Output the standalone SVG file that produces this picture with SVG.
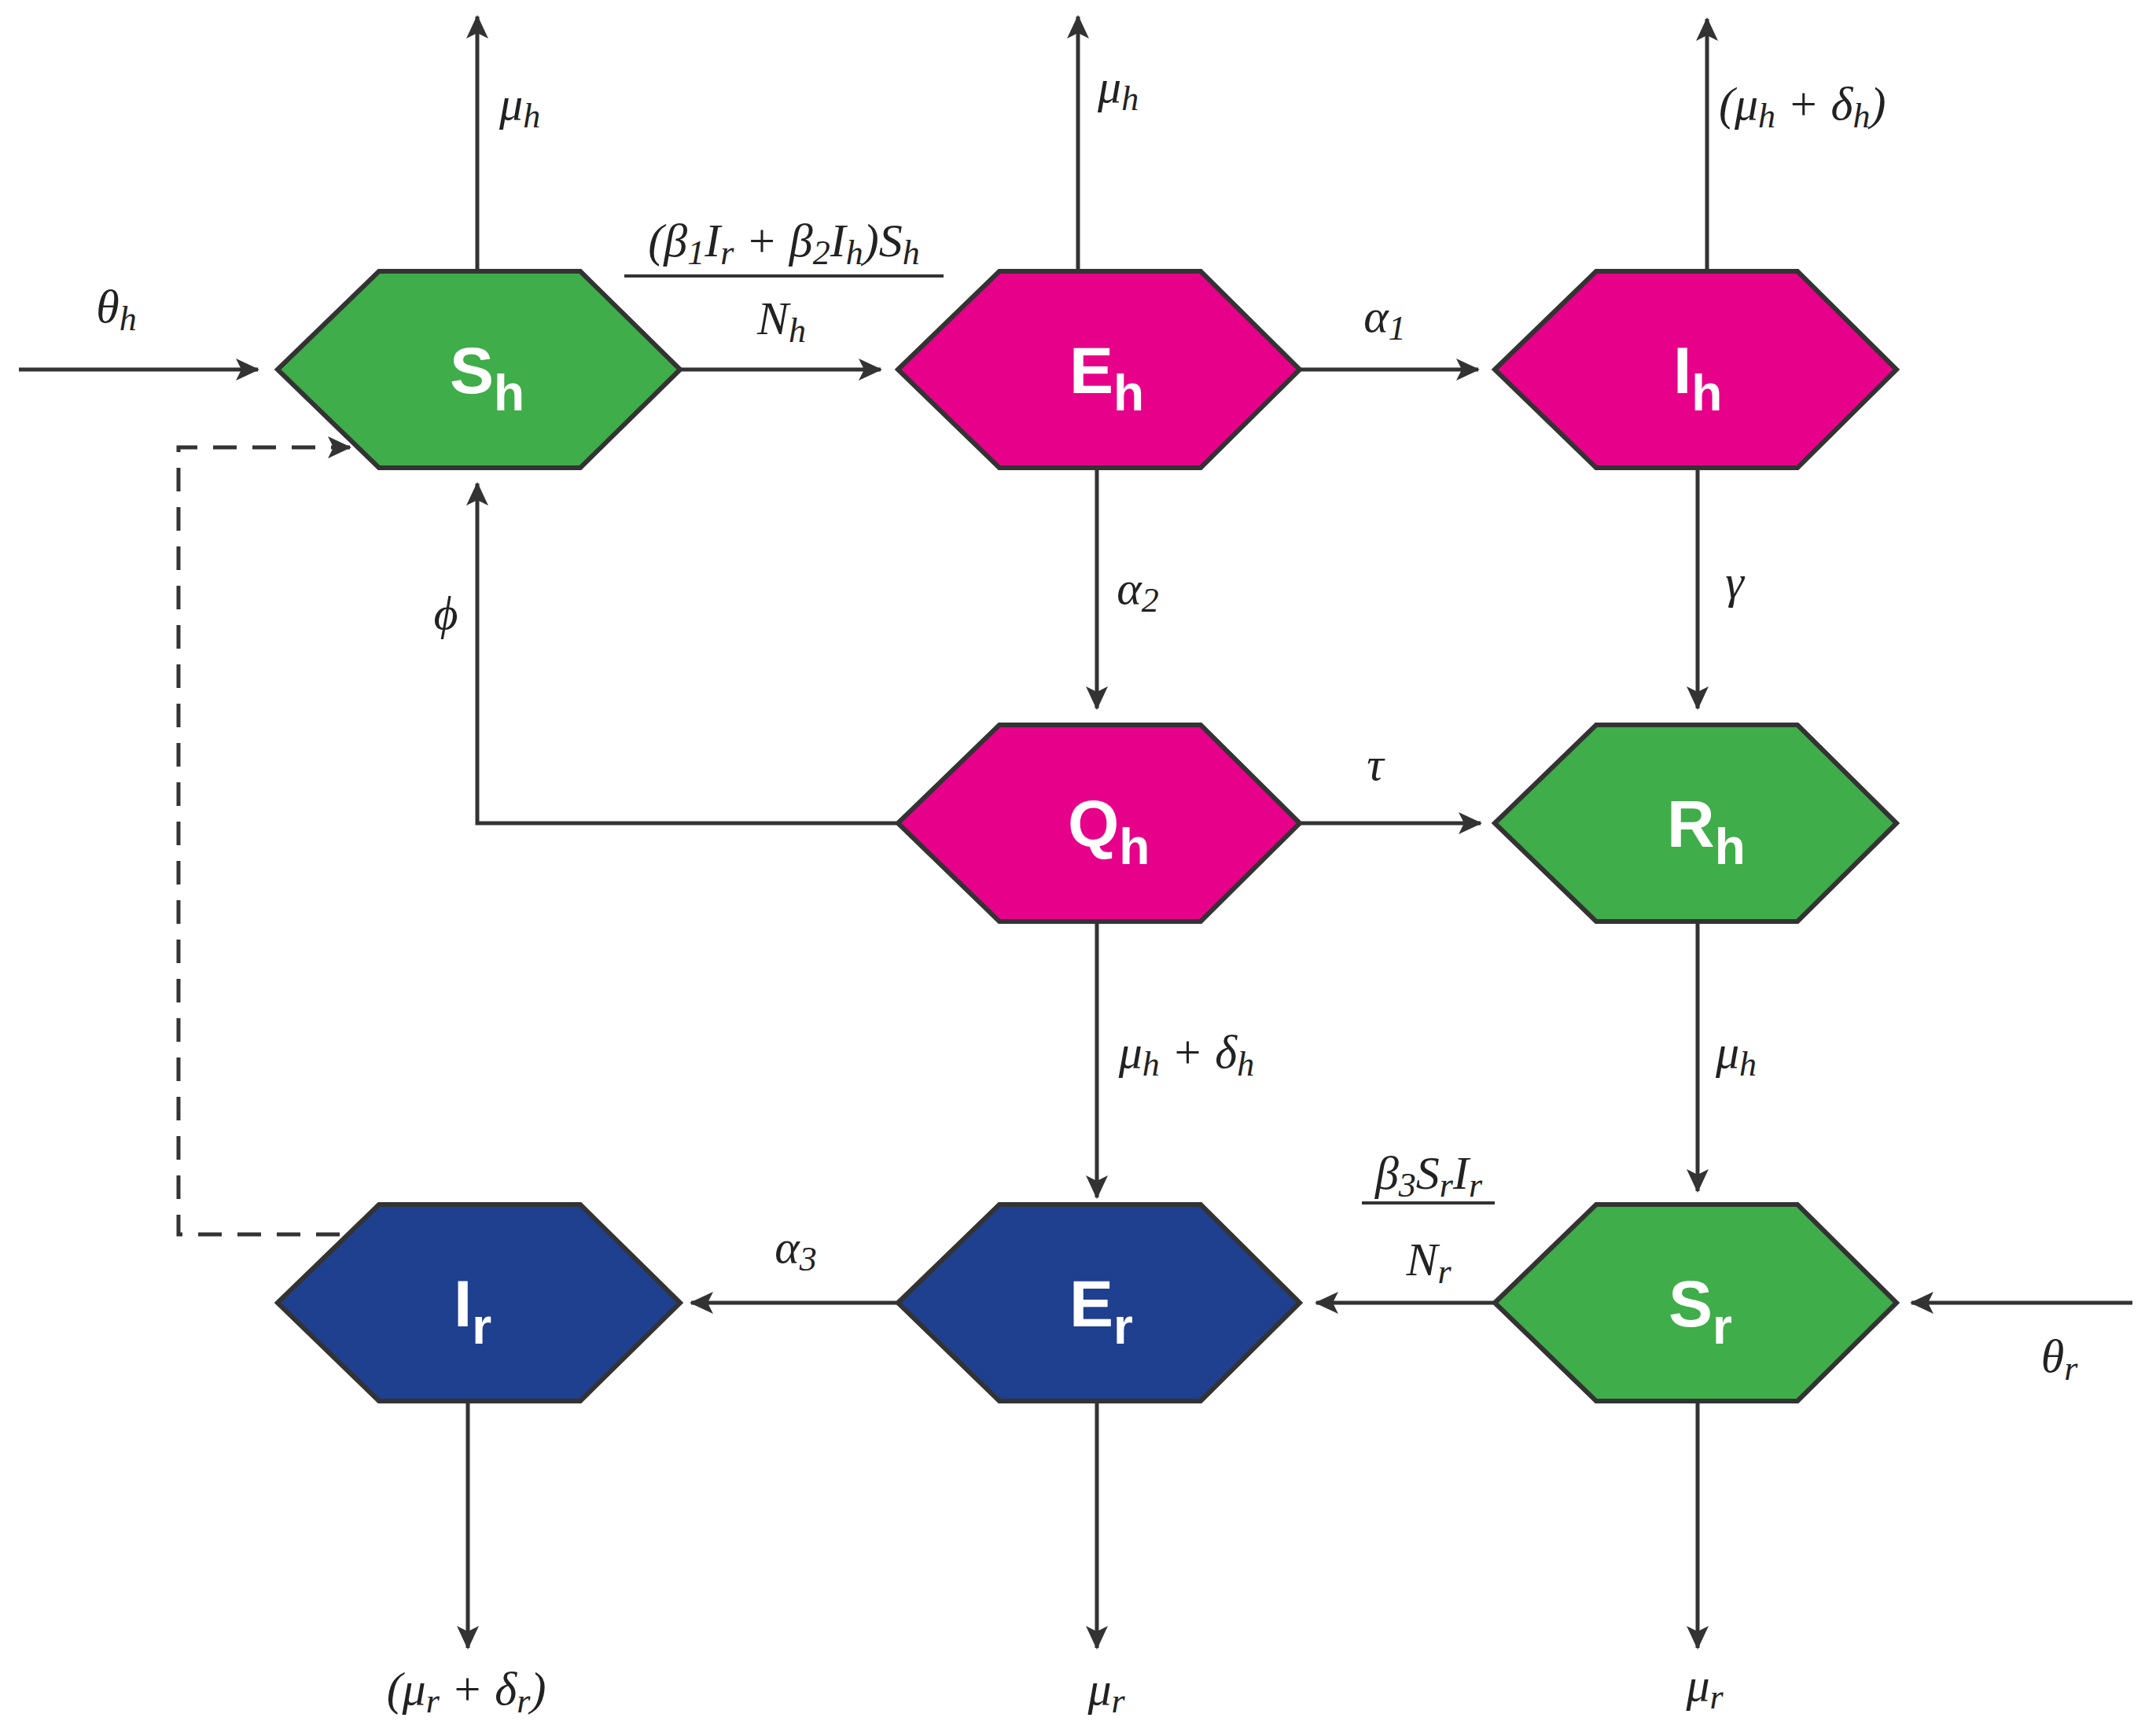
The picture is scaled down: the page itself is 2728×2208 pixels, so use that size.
<svg xmlns="http://www.w3.org/2000/svg" width="2728" height="2208" viewBox="0 0 2728 2208">
<defs>
<marker id="ah" viewBox="0 0 20 20" refX="19" refY="10" markerWidth="9" markerHeight="9" markerUnits="userSpaceOnUse" orient="auto" style="overflow:visible">
<path d="M0,0 L20,10 L0,20 L5,10 Z" fill="#333" transform="scale(1.6) translate(-8,-3.75)"/>
</marker>
<marker id="a" viewBox="0 0 32 32" refX="30" refY="16" markerWidth="32" markerHeight="32" markerUnits="userSpaceOnUse" orient="auto">
<path d="M2,2 L32,16 L2,30 L9,16 Z" fill="#333"/>
</marker>
</defs>
<style>
.hex{stroke:#333;stroke-width:6;stroke-linejoin:miter}
.g{fill:#3fad49}.m{fill:#e6008a}.b{fill:#1f3f8f}
.lbl{font-family:"Liberation Sans",Arial,sans-serif;font-weight:bold;fill:#fff;font-size:84px}
.c{fill:none;stroke:#333;stroke-width:5}
.d{fill:none;stroke:#333;stroke-width:5;stroke-dasharray:30 20}
.t{font-family:"Liberation Serif","DejaVu Serif",serif;font-style:italic;font-size:60px;fill:#222}
.bar{stroke:#333;stroke-width:4}
</style>
<rect width="2728" height="2208" fill="#fff"/>
<g id="connectors">
<line class="c" x1="24" y1="470" x2="328" y2="470" marker-end="url(#a)"/>
<line class="c" x1="865" y1="470" x2="1120" y2="470" marker-end="url(#a)"/>
<line class="c" x1="1653" y1="470" x2="1880" y2="470" marker-end="url(#a)"/>
<line class="c" x1="607" y1="345" x2="607" y2="21" marker-end="url(#a)"/>
<line class="c" x1="1371" y1="345" x2="1371" y2="21" marker-end="url(#a)"/>
<line class="c" x1="2171" y1="345" x2="2171" y2="24" marker-end="url(#a)"/>
<line class="c" x1="1395" y1="595" x2="1395" y2="901" marker-end="url(#a)"/>
<line class="c" x1="2159" y1="595" x2="2159" y2="901" marker-end="url(#a)"/>
<line class="c" x1="1653" y1="1047" x2="1883" y2="1047" marker-end="url(#a)"/>
<polyline class="c" points="1142,1047 607,1047 607,615" marker-end="url(#a)"/>
<line class="c" x1="1395" y1="1172" x2="1395" y2="1523" marker-end="url(#a)"/>
<line class="c" x1="2159" y1="1172" x2="2159" y2="1515" marker-end="url(#a)"/>
<line class="c" x1="1901" y1="1657" x2="1674" y2="1657" marker-end="url(#a)"/>
<line class="c" x1="1142" y1="1657" x2="879" y2="1657" marker-end="url(#a)"/>
<line class="c" x1="2712" y1="1657" x2="2431" y2="1657" marker-end="url(#a)"/>
<line class="c" x1="595" y1="1782" x2="595" y2="2096" marker-end="url(#a)"/>
<line class="c" x1="1395" y1="1782" x2="1395" y2="2096" marker-end="url(#a)"/>
<line class="c" x1="2159" y1="1782" x2="2159" y2="2096" marker-end="url(#a)"/>
<polyline class="d" points="432,1570 227,1570 227,569 445,569" marker-end="url(#a)"/>
</g>
<g id="Sh"><polygon class="hex g" points="353,470 482,345 738,345 865,470 738,595 482,595"/><text class="lbl" x="572" y="500">S<tspan font-size="64" dy="22">h</tspan></text></g>
<g id="Eh"><polygon class="hex m" points="1142,470 1271,345 1527,345 1653,470 1527,595 1271,595"/><text class="lbl" x="1360" y="500">E<tspan font-size="64" dy="22">h</tspan></text></g>
<g id="Ih"><polygon class="hex m" points="1901,470 2030,345 2286,345 2412,470 2286,595 2030,595"/><text class="lbl" x="2128" y="500">I<tspan font-size="64" dy="22">h</tspan></text></g>
<g id="Qh"><polygon class="hex m" points="1142,1047 1271,922 1527,922 1653,1047 1527,1172 1271,1172"/><text class="lbl" x="1358" y="1077">Q<tspan font-size="64" dy="22">h</tspan></text></g>
<g id="Rh"><polygon class="hex g" points="1901,1047 2030,922 2286,922 2412,1047 2286,1172 2030,1172"/><text class="lbl" x="2120" y="1077">R<tspan font-size="64" dy="22">h</tspan></text></g>
<g id="Ir"><polygon class="hex b" points="353,1657 482,1532 738,1532 865,1657 738,1782 482,1782"/><text class="lbl" x="577" y="1687">I<tspan font-size="64" dy="22">r</tspan></text></g>
<g id="Er"><polygon class="hex b" points="1142,1657 1271,1532 1527,1532 1653,1657 1527,1782 1271,1782"/><text class="lbl" x="1360" y="1687">E<tspan font-size="64" dy="22">r</tspan></text></g>
<g id="Sr"><polygon class="hex g" points="1901,1657 2030,1532 2286,1532 2412,1657 2286,1782 2030,1782"/><text class="lbl" x="2122" y="1687">S<tspan font-size="64" dy="22">r</tspan></text></g>
<g id="labels">
<text class="t" x="635" y="152">μ<tspan font-size="44" dy="10">h</tspan></text>
<text class="t" x="1396" y="130">μ<tspan font-size="44" dy="10">h</tspan></text>
<text class="t" x="2186" y="152">(μ<tspan font-size="44" dy="10">h</tspan><tspan dy="-10"> + δ</tspan><tspan font-size="44" dy="10">h</tspan><tspan dy="-10">)</tspan></text>
<text class="t" x="997" y="326" text-anchor="middle">(β<tspan font-size="44" dy="10">1</tspan><tspan dy="-10">I</tspan><tspan font-size="44" dy="10">r</tspan><tspan dy="-10"> + β</tspan><tspan font-size="44" dy="10">2</tspan><tspan dy="-10">I</tspan><tspan font-size="44" dy="10">h</tspan><tspan dy="-10">)S</tspan><tspan font-size="44" dy="10">h</tspan></text>
<line class="bar" x1="794" y1="351" x2="1200" y2="351"/>
<text class="t" x="994" y="425" text-anchor="middle">N<tspan font-size="44" dy="10">h</tspan></text>
<text class="t" x="148" y="410" text-anchor="middle">θ<tspan font-size="44" dy="10">h</tspan></text>
<text class="t" x="1761" y="422" text-anchor="middle">α<tspan font-size="44" dy="10">1</tspan></text>
<text class="t" x="1447" y="768" text-anchor="middle">α<tspan font-size="44" dy="10">2</tspan></text>
<text class="t" x="2206" y="760" text-anchor="middle">γ</text>
<text class="t" x="567" y="800" text-anchor="middle">ϕ</text>
<text class="t" x="1749" y="992" text-anchor="middle">τ</text>
<text class="t" x="1509" y="1358" text-anchor="middle">μ<tspan font-size="44" dy="10">h</tspan><tspan dy="-10"> + δ</tspan><tspan font-size="44" dy="10">h</tspan></text>
<text class="t" x="2208" y="1358" text-anchor="middle">μ<tspan font-size="44" dy="10">h</tspan></text>
<text class="t" x="1817" y="1512" text-anchor="middle">β<tspan font-size="44" dy="10">3</tspan><tspan dy="-10">S</tspan><tspan font-size="44" dy="10">r</tspan><tspan dy="-10">I</tspan><tspan font-size="44" dy="10">r</tspan></text>
<line class="bar" x1="1732" y1="1530" x2="1901" y2="1530"/>
<text class="t" x="1817" y="1622" text-anchor="middle">N<tspan font-size="44" dy="10">r</tspan></text>
<text class="t" x="1012" y="1606" text-anchor="middle">α<tspan font-size="44" dy="10">3</tspan></text>
<text class="t" x="2619" y="1745" text-anchor="middle">θ<tspan font-size="44" dy="10">r</tspan></text>
<text class="t" x="593" y="2168" text-anchor="middle">(μ<tspan font-size="44" dy="10">r</tspan><tspan dy="-10"> + δ</tspan><tspan font-size="44" dy="10">r</tspan><tspan dy="-10">)</tspan></text>
<text class="t" x="1407" y="2168" text-anchor="middle">μ<tspan font-size="44" dy="10">r</tspan></text>
<text class="t" x="2168" y="2163" text-anchor="middle">μ<tspan font-size="44" dy="10">r</tspan></text>
</g>
</svg>
